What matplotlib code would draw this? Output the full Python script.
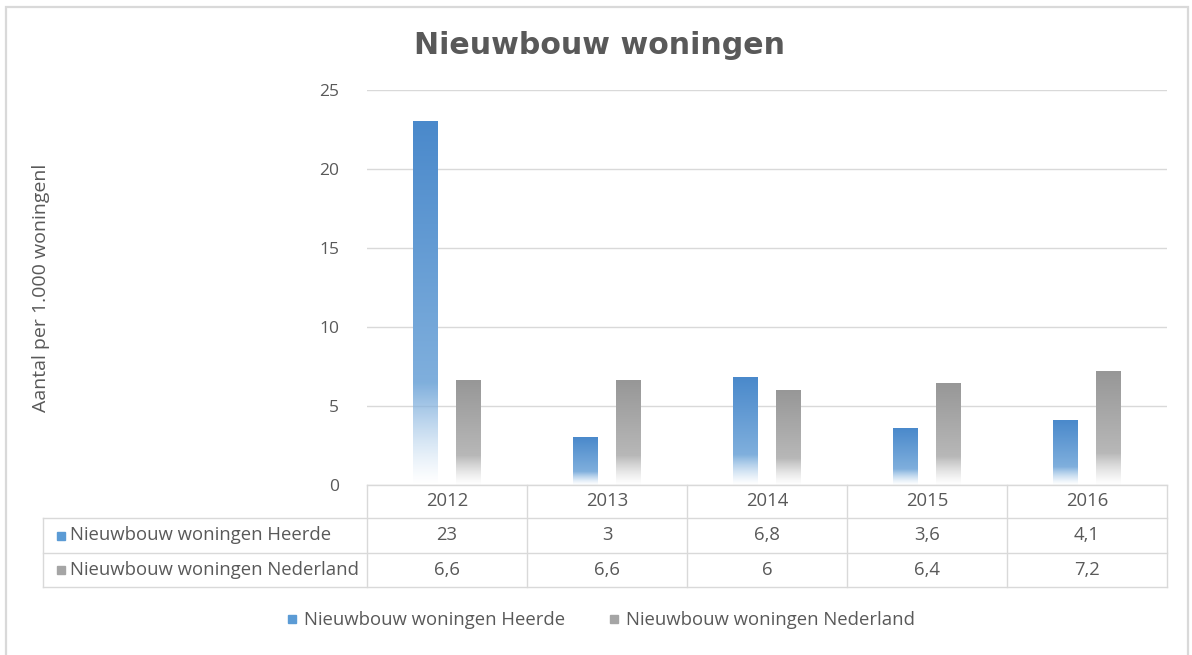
import matplotlib.pyplot as plt
import numpy as np
from matplotlib.colors import to_rgb
from matplotlib.patches import Rectangle
from matplotlib.lines import Line2D

years = ["2012", "2013", "2014", "2015", "2016"]
heerde = [23, 3, 6.8, 3.6, 4.1]
nederland = [6.6, 6.6, 6, 6.4, 7.2]
heerde_lbl = ["23", "3", "6,8", "3,6", "4,1"]
nederland_lbl = ["6,6", "6,6", "6", "6,4", "7,2"]
series = ["Nieuwbouw woningen Heerde", "Nieuwbouw woningen Nederland"]

blue = "#5B9BD5"
gray = "#A5A5A5"
txt = "#595959"
gridc = "#D9D9D9"

plt.rcParams['font.family'] = ['Open Sans', 'DejaVu Sans']

W, H = 1192, 655
fig = plt.figure(figsize=(W / 100, H / 100), dpi=100)
ax = fig.add_axes([367 / W, 1 - 485 / H, 800 / W, 395 / H])

fig.patches.append(Rectangle((6 / W, -0.01), 1182 / W, 1 - 7 / H + 0.01,
                             transform=fig.transFigure, fill=False,
                             edgecolor="#D9D9D9", lw=1.6))


def grad_bar(x, w, h, base, dark):
    n = 256
    t = np.linspace(0, 1, n)[:, None]
    c0 = np.array(to_rgb(base))
    c1 = np.array(to_rgb(dark))
    light = c0 + (1 - c0) * 0.35
    col = light + (c1 - light) * t
    alpha = np.clip(t / 0.28, 0, 1) ** 1.2
    img = np.concatenate([col, alpha], axis=1)[:, None, :]
    ax.imshow(img, extent=[x - w / 2, x + w / 2, 0, h], origin="lower",
              aspect="auto", interpolation="bilinear", zorder=3)


xs = np.arange(len(years))
bw, off = 0.156, 0.134
for i in range(len(years)):
    grad_bar(xs[i] - off, bw, heerde[i], blue, "#4A89CB")
    grad_bar(xs[i] + off, bw, nederland[i], gray, "#979797")

ax.set_xlim(-0.5, 4.5)
ax.set_ylim(0, 25)
ax.set_yticks([0, 5, 10, 15, 20, 25])
ax.yaxis.grid(True, color=gridc, lw=1)
ax.set_axisbelow(True)
for s in ax.spines.values():
    s.set_visible(False)
ax.tick_params(axis="y", length=0, pad=20, labelsize=12.5, labelcolor=txt)
ax.tick_params(axis="x", length=0, labelbottom=False)
ax.set_ylabel("Aantal per 1.000 woningenl", fontsize=14, color=txt, labelpad=0)
ax.yaxis.set_label_coords((50 - 367) / 800, 0.5)

fig.text(599 / W, 1 - 45 / H, "Nieuwbouw woningen", ha="center", va="center",
         fontsize=21.6, fontweight="bold", color=txt, family="DejaVu Sans")

# data table below the plot
ah = 395.0
r0, r1, r2, r3 = 0, -33 / ah, -68 / ah, -102 / ah
lx = (43 - 367) / 800
kw = dict(transform=ax.transAxes, color=gridc, lw=1, clip_on=False)
ax.add_line(Line2D([0, 1], [r0, r0], **kw))
for y in (r1, r2, r3):
    ax.add_line(Line2D([lx, 1], [y, y], **kw))
ax.add_line(Line2D([lx, lx], [r1, r3], **kw))
for k in range(6):
    ax.add_line(Line2D([k / 5, k / 5], [r0, r3], **kw))

fs = 13.3
for i, yr in enumerate(years):
    cx = (i + 0.5) / 5
    ax.text(cx, (r0 + r1) / 2, yr, transform=ax.transAxes, ha="center",
            va="center", fontsize=fs, color=txt)
    ax.text(cx, (r1 + r2) / 2, heerde_lbl[i], transform=ax.transAxes,
            ha="center", va="center", fontsize=fs, color=txt)
    ax.text(cx, (r2 + r3) / 2, nederland_lbl[i], transform=ax.transAxes,
            ha="center", va="center", fontsize=fs, color=txt)

for (y0, y1), name, c in zip([(r1, r2), (r2, r3)], series, [blue, gray]):
    ym = (y0 + y1) / 2
    ax.plot([(61 - 367) / 800], [ym], marker="s", ms=5.5, color=c,
            transform=ax.transAxes, clip_on=False)
    ax.text((70 - 367) / 800, ym, name, transform=ax.transAxes, ha="left",
            va="center", fontsize=fs, color=txt)

handles = [Line2D([], [], ls="", marker="s", ms=5.5, color=c) for c in (blue, gray)]
fig.legend(handles, series, loc="center", bbox_to_anchor=(600 / W, 1 - 620 / H),
           ncol=2, frameon=False, fontsize=fs, labelcolor=txt,
           handletextpad=0.3, columnspacing=2.3, handlelength=0.7)

fig.savefig("out.png", dpi=100)
